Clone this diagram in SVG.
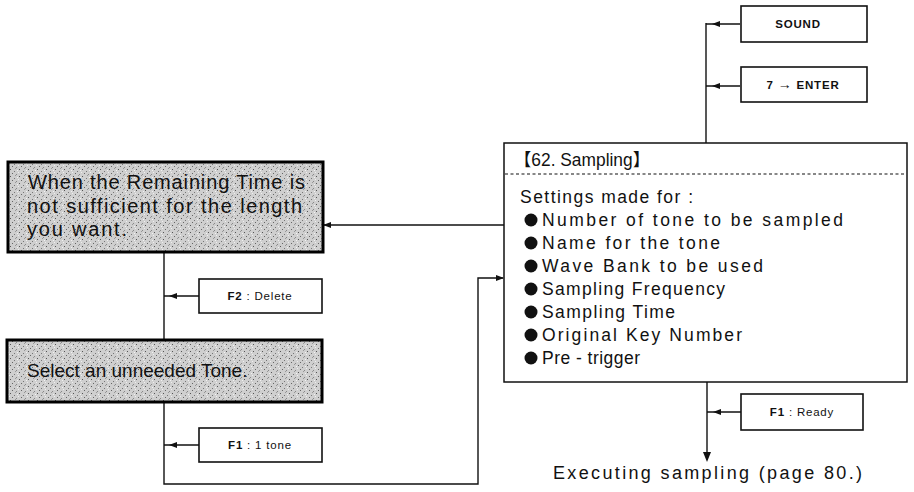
<svg xmlns="http://www.w3.org/2000/svg" xmlns:xlink="http://www.w3.org/1999/xlink" width="914" height="492" viewBox="0 0 914 492">
<style>
.line{fill:none;stroke:#111;stroke-width:1.4}
.key{fill:#fff;stroke:#111;stroke-width:1.6}
.keyt{font-family:"Liberation Sans",Arial,sans-serif;font-size:11.5px;fill:#111;text-anchor:middle;letter-spacing:0.8px}
.b{font-weight:bold}
.cond{fill:url(#halftone);stroke:#000;stroke-width:3}
.condt{font-family:"Liberation Sans",Arial,sans-serif;font-size:20px;fill:#111}
.main{fill:#fff;stroke:#111;stroke-width:1.5}
.mt{font-family:"Liberation Sans","Noto Sans CJK JP",Arial,sans-serif;font-size:17.5px;fill:#111}
.dash{stroke:#111;stroke-width:1.2;stroke-dasharray:3 2.5}
.ah{fill:#111}
</style>
<defs>
<pattern id="halftone" width="9" height="7" patternUnits="userSpaceOnUse">
<rect width="9" height="7" fill="#cfcfcf"/>
<rect x="1" y="1" width="1" height="1" fill="#555"/>
<rect x="5" y="3" width="1" height="1" fill="#777"/>
<rect x="3" y="5" width="1" height="1" fill="#666"/>
<rect x="7" y="6" width="1" height="1" fill="#888"/>
<rect x="6" y="0" width="1" height="1" fill="#999"/>
<rect x="0" y="4" width="1" height="1" fill="#eee"/>
<rect x="8" y="2" width="1" height="1" fill="#f2f2f2"/>
</pattern>
<path id="ahL" d="M0,0 L8,-3 L8,3 Z"/>
<path id="ahR" d="M0,0 L-8,-3 L-8,3 Z"/>
<path id="ahD" d="M0,0 L-4,-10 L4,-10 Z"/>
</defs>

<g id="connectors">
<path class="line" d="M706,23 V143"/>
<path class="line" d="M740,24 H706"/>
<use href="#ahL" class="ah" x="712" y="24"/>
<path class="line" d="M740,86 H706"/>
<use href="#ahL" class="ah" x="712" y="86"/>
<path class="line" d="M504,225 H324"/>
<use href="#ahL" class="ah" x="323" y="225"/>
<path class="line" d="M164,253 V340"/>
<path class="line" d="M199,296 H164"/>
<use href="#ahL" class="ah" x="169" y="296"/>
<path class="line" d="M164,403 V484 H478 V278 H503"/>
<path class="line" d="M199,445 H164"/>
<use href="#ahL" class="ah" x="169" y="445"/>
<use href="#ahR" class="ah" x="504" y="278"/>
<path class="line" d="M707,382 V453"/>
<path class="line" d="M741,412 H707"/>
<use href="#ahL" class="ah" x="713" y="412"/>
<use href="#ahD" class="ah" x="707" y="462"/>
</g>

<g id="key-sound">
<rect class="key" x="741" y="6" width="126" height="36"/>
<text class="keyt b" x="798" y="28">SOUND</text>
</g>
<g id="key-7enter">
<rect class="key" x="741" y="67" width="126" height="35"/>
<text class="keyt b" x="803" y="89">7 <tspan style="font-size:14px">→</tspan> ENTER</text>
</g>

<g id="main-sampling">
<rect class="main" x="504" y="143" width="403" height="239"/>
<text class="mt" x="514" y="166" textLength="136" lengthAdjust="spacingAndGlyphs">【62. Sampling】</text>
<line class="dash" x1="505" y1="174" x2="906" y2="174"/>
<text class="mt" x="520" y="203" textLength="173" lengthAdjust="spacing">Settings made for :</text>
<g class="mt">
<circle cx="531" cy="220" r="6.5"/>
<circle cx="531" cy="243" r="6.5"/>
<circle cx="531" cy="266" r="6.5"/>
<circle cx="531" cy="289" r="6.5"/>
<circle cx="531" cy="312" r="6.5"/>
<circle cx="531" cy="335" r="6.5"/>
<circle cx="531" cy="358" r="6.5"/>
</g>
<text class="mt" x="542" y="226" textLength="301" lengthAdjust="spacing">Number of tone to be sampled</text>
<text class="mt" x="542" y="249" textLength="178" lengthAdjust="spacing">Name for the tone</text>
<text class="mt" x="542" y="272" textLength="221" lengthAdjust="spacing">Wave Bank to be used</text>
<text class="mt" x="542" y="295" textLength="183" lengthAdjust="spacing">Sampling Frequency</text>
<text class="mt" x="542" y="318" textLength="133" lengthAdjust="spacing">Sampling Time</text>
<text class="mt" x="542" y="341" textLength="200" lengthAdjust="spacing">Original Key Number</text>
<text class="mt" x="542" y="364" textLength="98" lengthAdjust="spacing">Pre - trigger</text>
</g>

<g id="cond-remaining">
<rect class="cond" x="8" y="162" width="315" height="90"/>
<text class="condt" x="28" y="189" textLength="277" lengthAdjust="spacing">When the Remaining Time is</text>
<text class="condt" x="27" y="213" textLength="275" lengthAdjust="spacing">not sufficient for the length</text>
<text class="condt" x="27" y="236" textLength="100" lengthAdjust="spacing">you want.</text>
</g>

<g id="key-f2-delete">
<rect class="key" x="199" y="279" width="123" height="34"/>
<text class="keyt" x="260" y="300"><tspan class="b">F2</tspan> : Delete</text>
</g>

<g id="cond-select">
<rect class="cond" x="7" y="340" width="315" height="62"/>
<text class="condt" x="27" y="377" style="font-size:19px">Select an unneeded Tone.</text>
</g>

<g id="key-f1-tone">
<rect class="key" x="199" y="428" width="123" height="34"/>
<text class="keyt" x="260" y="449"><tspan class="b">F1</tspan> : 1 tone</text>
</g>

<g id="key-f1-ready">
<rect class="key" x="741" y="394" width="122" height="36"/>
<text class="keyt" x="802" y="416"><tspan class="b">F1</tspan> : Ready</text>
</g>

<g id="result">
<text class="mt" x="553" y="479" style="font-size:18px" textLength="309" lengthAdjust="spacing">Executing sampling (page 80.)</text>
</g>
</svg>
